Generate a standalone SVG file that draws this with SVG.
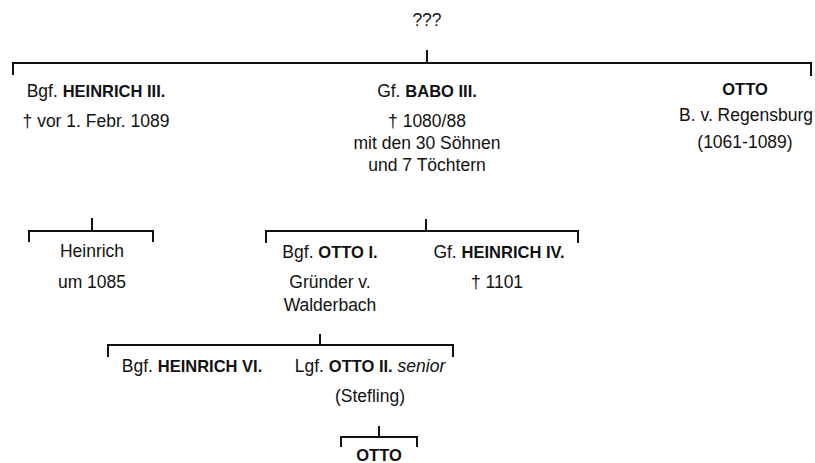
<svg xmlns="http://www.w3.org/2000/svg" width="815" height="463" viewBox="0 0 815 463">
<style>
text{font-family:"Liberation Sans",Arial,sans-serif;font-size:17.5px;fill:#111;text-anchor:middle}
.b{font-weight:bold;font-size:16.5px}
.i{font-style:italic}
.c line{stroke:#111;stroke-width:2;fill:none}
.c path{stroke:#111;stroke-width:2;fill:none}
</style>
<rect width="815" height="463" fill="#fff"/>
<g class="c" id="connectors">
<line x1="427" y1="50" x2="427" y2="63"/>
<path d="M13 75V63H811V76"/>
<line x1="92" y1="218" x2="92" y2="231"/>
<path d="M29 242V231H153V242"/>
<line x1="426" y1="219" x2="426" y2="231"/>
<path d="M266 243V231H578V243"/>
<line x1="320" y1="334" x2="320" y2="345"/>
<path d="M108 357V345H453V357"/>
<line x1="379" y1="426" x2="379" y2="437"/>
<path d="M341 447V437H417V447"/>
</g>
<g id="root"><text x="427" y="26">???</text></g>
<g id="heinrich3">
<text x="96" y="97">Bgf. <tspan class="b">HEINRICH III.</tspan></text>
<text x="96" y="127">† vor 1. Febr. 1089</text>
</g>
<g id="babo3">
<text x="427" y="97">Gf. <tspan class="b">BABO III.</tspan></text>
<text x="427" y="127">† 1080/88</text>
<text x="427" y="149">mit den 30 Söhnen</text>
<text x="427" y="171">und 7 Töchtern</text>
</g>
<g id="otto-regensburg">
<text x="745" y="95" class="b">OTTO</text>
<text x="746" y="121">B. v. Regensburg</text>
<text x="745" y="148">(1061-1089)</text>
</g>
<g id="heinrich">
<text x="92" y="257">Heinrich</text>
<text x="92" y="288">um 1085</text>
</g>
<g id="otto1">
<text x="330" y="258">Bgf. <tspan class="b">OTTO I.</tspan></text>
<text x="330" y="288">Gründer v.</text>
<text x="330" y="311">Walderbach</text>
</g>
<g id="heinrich4">
<text x="499" y="258">Gf. <tspan class="b">HEINRICH IV.</tspan></text>
<text x="497" y="288">† 1101</text>
</g>
<g id="heinrich6">
<text x="192" y="372">Bgf. <tspan class="b">HEINRICH VI.</tspan></text>
</g>
<g id="otto2">
<text x="370" y="372">Lgf. <tspan class="b">OTTO II.</tspan> <tspan class="i">senior</tspan></text>
<text x="370" y="402">(Stefling)</text>
</g>
<g id="otto">
<text x="379" y="461" class="b">OTTO</text>
</g>
</svg>
